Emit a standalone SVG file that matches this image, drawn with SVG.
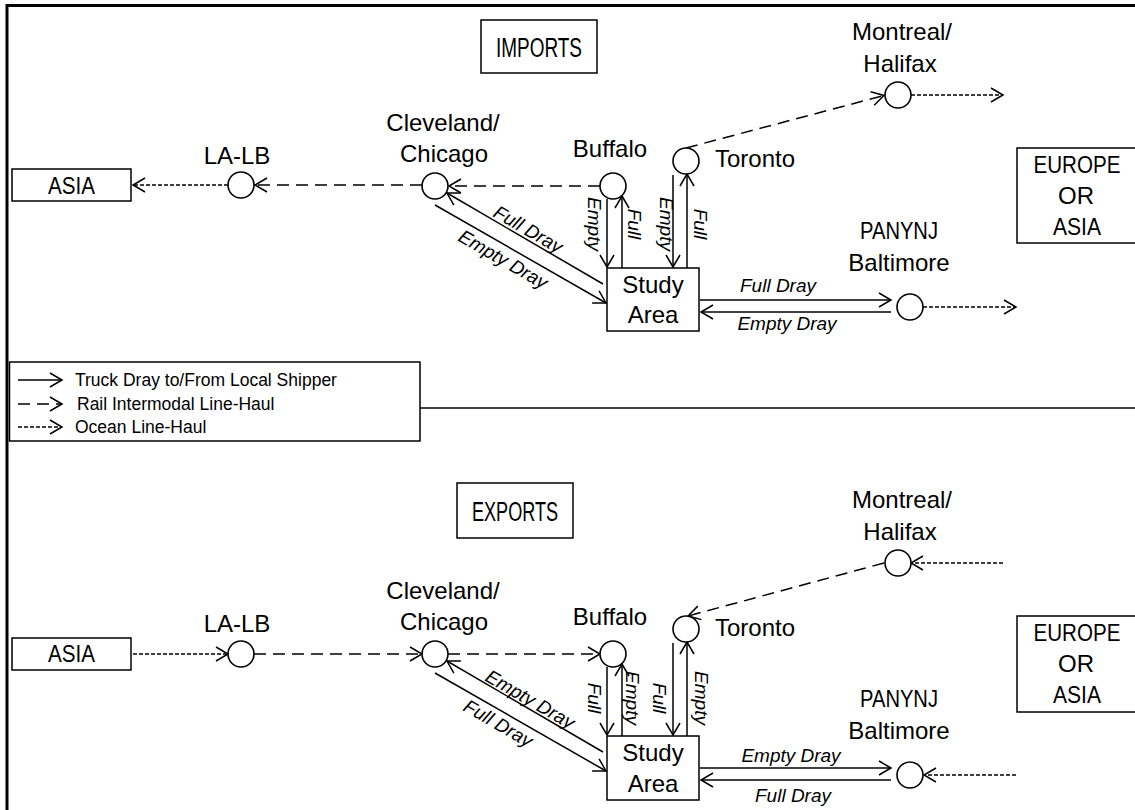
<svg xmlns="http://www.w3.org/2000/svg" width="1135" height="810" viewBox="0 0 1135 810">
<style>
text{font-family:"Liberation Sans",Arial,sans-serif;fill:#000}
.lbl{font-size:24px;text-anchor:middle}
.ttl{font-size:27px;text-anchor:middle}
.it{font-size:19px;font-style:italic;text-anchor:middle}
.leg{font-size:17.5px}
.box{fill:#fff;stroke:#000;stroke-width:1.5}
.hub{fill:#fff;stroke:#000;stroke-width:1.6}
.truck{fill:none;stroke:#000;stroke-width:1.5}
.rail{fill:none;stroke:#000;stroke-width:1.5;stroke-dasharray:12 7}
.ocean{fill:none;stroke:#000;stroke-width:1.5;stroke-dasharray:4 2}
</style>
<defs>
<marker id="arr" markerUnits="userSpaceOnUse" markerWidth="1" markerHeight="1" refX="0" refY="0" orient="auto" overflow="visible">
<path d="M-12,-7 L0,0 L-12,7" fill="none" stroke="#000" stroke-width="1.5"/>
</marker>
</defs>
<rect width="1135" height="810" fill="#fff"/>
<g id="frame">
<path d="M7,810 V5.5 H1135" fill="none" stroke="#000" stroke-width="3"/>
<path d="M420,408 H1135" fill="none" stroke="#000" stroke-width="1.5"/>
</g>
<g id="connectors">
<path class="ocean" d="M228,185 L133,185" marker-end="url(#arr)"/>
<path class="ocean" d="M911,95 L1003,95" marker-end="url(#arr)"/>
<path class="ocean" d="M923,307 L1016,307" marker-end="url(#arr)"/>
<path class="rail" d="M600,186 L449,186" marker-end="url(#arr)"/>
<path class="rail" d="M422,185 L255,185" marker-end="url(#arr)"/>
<path class="rail" d="M686,148 L884,95.5" marker-end="url(#arr)"/>
<path class="truck" d="M607,199 L607,267" marker-end="url(#arr)"/>
<path class="truck" d="M622,268 L622,196" marker-end="url(#arr)"/>
<path class="truck" d="M673,175 L673,267" marker-end="url(#arr)"/>
<path class="truck" d="M687,268 L687,174" marker-end="url(#arr)"/>
<path class="truck" d="M603,284 L447,193" marker-end="url(#arr)"/>
<path class="truck" d="M435,205 L606,303" marker-end="url(#arr)"/>
<path class="truck" d="M700,300 L891,300" marker-end="url(#arr)"/>
<path class="truck" d="M891,312 L701,312" marker-end="url(#arr)"/>
<path class="ocean" d="M133,654 L228,654" marker-end="url(#arr)"/>
<path class="ocean" d="M1003,563 L911,563" marker-end="url(#arr)"/>
<path class="ocean" d="M1016,775 L924,775" marker-end="url(#arr)"/>
<path class="rail" d="M254,654 L422,654" marker-end="url(#arr)"/>
<path class="rail" d="M448,654 L600,654" marker-end="url(#arr)"/>
<path class="rail" d="M884,563 L688,616" marker-end="url(#arr)"/>
<path class="truck" d="M607,667 L607,735" marker-end="url(#arr)"/>
<path class="truck" d="M622,736 L622,664" marker-end="url(#arr)"/>
<path class="truck" d="M673,643 L673,735" marker-end="url(#arr)"/>
<path class="truck" d="M687,736 L687,642" marker-end="url(#arr)"/>
<path class="truck" d="M603,752 L447,661" marker-end="url(#arr)"/>
<path class="truck" d="M435,673 L606,771" marker-end="url(#arr)"/>
<path class="truck" d="M700,768 L891,768" marker-end="url(#arr)"/>
<path class="truck" d="M891,780 L701,780" marker-end="url(#arr)"/>
<text class="it" x="588" y="224" transform="rotate(90 588 224)">Empty</text>
<text class="it" x="628" y="224" transform="rotate(90 628 224)">Full</text>
<text class="it" x="660" y="224" transform="rotate(90 660 224)">Empty</text>
<text class="it" x="694" y="224" transform="rotate(90 694 224)">Full</text>
<text class="it" x="525" y="235" transform="rotate(30 525 235)">Full Dray</text>
<text class="it" x="500" y="265" transform="rotate(30 500 265)">Empty Dray</text>
<text class="it" x="778" y="292">Full Dray</text>
<text class="it" x="787" y="330">Empty Dray</text>
<text class="it" x="588" y="698" transform="rotate(90 588 698)">Full</text>
<text class="it" x="626" y="698" transform="rotate(90 626 698)">Empty</text>
<text class="it" x="653" y="698" transform="rotate(90 653 698)">Full</text>
<text class="it" x="695" y="698" transform="rotate(90 695 698)">Empty</text>
<text class="it" x="527" y="705" transform="rotate(30 527 705)">Empty Dray</text>
<text class="it" x="495" y="729" transform="rotate(30 495 729)">Full Dray</text>
<text class="it" x="791" y="762">Empty Dray</text>
<text class="it" x="793" y="802">Full Dray</text>
</g>
<g id="imports-title"><rect class="box" x="481" y="20" width="116" height="53"/><text class="ttl" x="539" y="56.5" textLength="86" lengthAdjust="spacingAndGlyphs">IMPORTS</text></g>
<g id="asia-top"><rect class="box" x="12" y="169" width="119" height="32"/><text class="lbl" x="71.5" y="194" font-size="22" textLength="47" lengthAdjust="spacingAndGlyphs">ASIA</text></g>
<g id="lalb-top"><circle class="hub" cx="241" cy="185" r="13"/><text class="lbl" x="237" y="164">LA-LB</text></g>
<g id="cleveland-top"><circle class="hub" cx="435" cy="186" r="13"/><text class="lbl" x="443" y="131">Cleveland/</text><text class="lbl" x="444" y="162">Chicago</text></g>
<g id="buffalo-top"><circle class="hub" cx="613" cy="186" r="13"/><text class="lbl" x="610" y="157">Buffalo</text></g>
<g id="toronto-top"><circle class="hub" cx="686" cy="161" r="13"/><text class="lbl" x="715" y="167" style="text-anchor:start">Toronto</text></g>
<g id="montreal-top"><circle class="hub" cx="898" cy="95" r="13"/><text class="lbl" x="902" y="40">Montreal/</text><text class="lbl" x="900" y="72">Halifax</text></g>
<g id="panynj-top"><circle class="hub" cx="910" cy="307" r="13"/><text class="lbl" x="899" y="239" textLength="78" lengthAdjust="spacingAndGlyphs">PANYNJ</text><text class="lbl" x="899" y="271">Baltimore</text></g>
<g id="europe-top"><rect class="box" x="1017" y="148" width="130" height="95"/><text class="lbl" x="1077" y="173" textLength="87" lengthAdjust="spacingAndGlyphs">EUROPE</text><text class="lbl" x="1076" y="204">OR</text><text class="lbl" x="1077" y="235" textLength="48" lengthAdjust="spacingAndGlyphs">ASIA</text></g>
<g id="study-top"><rect class="box" x="607" y="268" width="92" height="63"/><text class="lbl" x="653" y="293">Study</text><text class="lbl" x="653" y="323">Area</text></g>
<g id="legend">
<rect class="box" x="9.5" y="362" width="410.5" height="79"/>
<path class="truck" d="M18,380 L62,380" marker-end="url(#arr)"/>
<path class="rail" d="M18,404 L62,404" stroke-dasharray="9 4" marker-end="url(#arr)"/>
<path class="ocean" d="M18,427 L62,427" marker-end="url(#arr)"/>
<text class="leg" x="75" y="386">Truck Dray to/From Local Shipper</text>
<text class="leg" x="77" y="410">Rail Intermodal  Line-Haul</text>
<text class="leg" x="75" y="433">Ocean Line-Haul</text>
</g>
<g id="exports-title"><rect class="box" x="457" y="483" width="116" height="55"/><text class="ttl" x="515" y="520.5" textLength="86" lengthAdjust="spacingAndGlyphs">EXPORTS</text></g>
<g id="asia-bottom"><rect class="box" x="12" y="638" width="119" height="32"/><text class="lbl" x="71.5" y="662" font-size="22" textLength="47" lengthAdjust="spacingAndGlyphs">ASIA</text></g>
<g id="lalb-bottom"><circle class="hub" cx="241" cy="654" r="13"/><text class="lbl" x="237" y="632">LA-LB</text></g>
<g id="cleveland-bottom"><circle class="hub" cx="435" cy="654" r="13"/><text class="lbl" x="443" y="599">Cleveland/</text><text class="lbl" x="444" y="630">Chicago</text></g>
<g id="buffalo-bottom"><circle class="hub" cx="613" cy="654" r="13"/><text class="lbl" x="610" y="625">Buffalo</text></g>
<g id="toronto-bottom"><circle class="hub" cx="686" cy="629" r="13"/><text class="lbl" x="715" y="636" style="text-anchor:start">Toronto</text></g>
<g id="montreal-bottom"><circle class="hub" cx="898" cy="563" r="13"/><text class="lbl" x="902" y="508">Montreal/</text><text class="lbl" x="900" y="540">Halifax</text></g>
<g id="panynj-bottom"><circle class="hub" cx="910" cy="775" r="13"/><text class="lbl" x="899" y="707" textLength="78" lengthAdjust="spacingAndGlyphs">PANYNJ</text><text class="lbl" x="899" y="739">Baltimore</text></g>
<g id="europe-bottom"><rect class="box" x="1017" y="616" width="130" height="96"/><text class="lbl" x="1077" y="641" textLength="87" lengthAdjust="spacingAndGlyphs">EUROPE</text><text class="lbl" x="1076" y="672">OR</text><text class="lbl" x="1077" y="703" textLength="48" lengthAdjust="spacingAndGlyphs">ASIA</text></g>
<g id="study-bottom"><rect class="box" x="607" y="736" width="92" height="64"/><text class="lbl" x="653" y="761">Study</text><text class="lbl" x="653" y="792">Area</text></g>
</svg>
